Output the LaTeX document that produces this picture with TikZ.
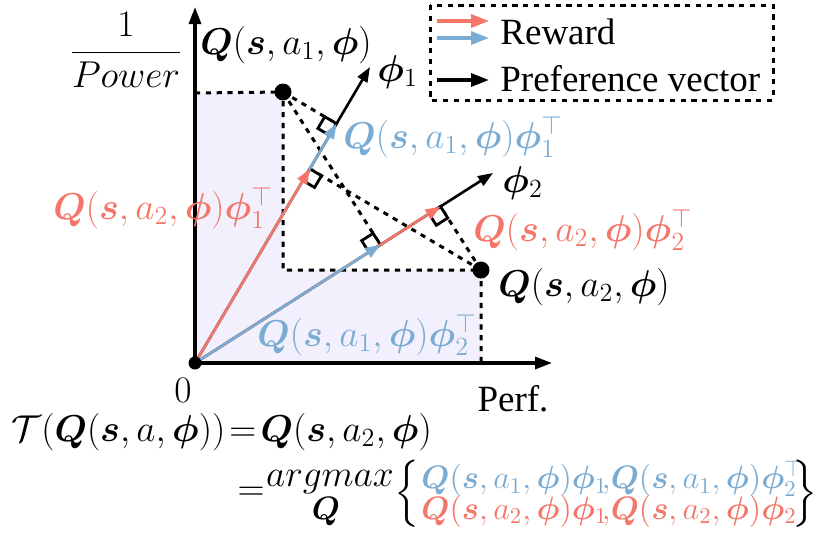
\RequirePackage{fix-cm}
\documentclass[tikz,border=0pt]{standalone}
\usepackage{amsmath,amssymb,bm}
\usepackage[no-math]{fontspec}
\setmainfont{Liberation Serif}
\usetikzlibrary{arrows.meta,calc}
\definecolor{rred}{RGB}{244,118,104}
\definecolor{rblue}{RGB}{122,172,211}
\definecolor{lav}{RGB}{243,240,253}
\newcommand{\bQ}{\boldsymbol{Q}}
\newcommand{\bS}{\boldsymbol{s}}
\newcommand{\bP}{\boldsymbol{\phi}}
\begin{document}
\begin{tikzpicture}[x=0.5pt,y=-0.5pt,
  every node/.style={inner sep=0pt, font=\fontsize{18.7}{22}\selectfont},
  txt/.style={font=\fontsize{18.5}{20}\selectfont},
  sml/.style={font=\fontsize{16.2}{18}\selectfont},
  dsh/.style={line width=1.5pt, dash pattern=on 2.6pt off 2.8pt},
  vec/.style={line width=1.3pt, -{Triangle[length=7.5pt,width=5.5pt]}},
  lvec/.style={line width=1.7pt, -{Triangle[length=9pt,width=6.5pt]}},
  axis/.style={line width=1.6pt, -{Triangle[length=8.5pt,width=6pt]}},
  sq/.style={line width=1.4pt},
  dot/.style={circle, fill=black, inner sep=0pt, minimum size=#1}
]
\useasboundingbox (0,0) rectangle (816,538);
\coordinate (O) at (195,363);
\coordinate (D1) at (283,92);
\coordinate (D2) at (481,270);
\coordinate (P1) at (370,67);
\coordinate (P2) at (493,173);
\coordinate (YT) at (195,7);
\coordinate (XT) at (552,363);
\coordinate (F11) at ($(O)!(D1)!(P1)$);
\coordinate (F21) at ($(O)!(D2)!(P1)$);
\coordinate (F12) at ($(O)!(D1)!(P2)$);
\coordinate (F22) at ($(O)!(D2)!(P2)$);
% shaded dominated region
\fill[lav] (195,93) -| (D1 |- D2) -| (D2 |- O) -- (O) -- cycle;
\draw[dsh] (195,93) -- (D1) -- (D1 |- D2) -- (D2) -- (D2 |- O);
% perpendiculars
\draw[dsh] (D1) -- (F11);
\draw[dsh] (D1) -- (F12);
\draw[dsh] (D2) -- (F21);
\draw[dsh] (D2) -- (F22);
% right-angle marks
\foreach \F/\D in {F11/D1,F12/D1,F21/D2,F22/D2}{
  \coordinate (sa) at ($(\F)!6.8pt!(O)$);
  \coordinate (sb) at ($(\F)!6.8pt!(\D)$);
  \draw[sq, fill=white] (\F) -- (sa) -- ($(sa)+(sb)-(\F)$) -- (sb) -- cycle;
}
% axes
\draw[axis] (O) -- (YT);
\draw[axis] (O) -- (XT);
% vectors
\draw[vec] (O) -- (P1);
\draw[vec] (O) -- (P2);
\draw[vec, rblue] (O) -- (F11);
\draw[vec, rred] (O) -- (F21);
\draw[vec, rred] (O) -- (F22);
\draw[vec, rblue] (O) -- (F12);
% dots
\node[dot=6.5pt] (d0) at (O) {};
\node[dot=8.5pt] (d1) at (D1) {};
\node[dot=8.5pt] (d2) at (D2) {};
% labels
\node[anchor=west] (lq1) at (200,45) {$\bQ(\bS,a_1,\bP)$};
\node[anchor=west] (lp1) at (377,72) {$\bP_1$};
\node[anchor=west, rblue] (lb1) at (343,137) {$\bQ(\bS,a_1,\bP)\bP_1^{\top}$};
\node[anchor=west, rred] (lr1) at (53,208) {$\bQ(\bS,a_2,\bP)\bP_1^{\top}$};
\node[anchor=west] (lp2) at (502,183) {$\bP_2$};
\node[anchor=west, rred] (lr2) at (473,230) {$\bQ(\bS,a_2,\bP)\bP_2^{\top}$};
\node[anchor=west] (lq2) at (498,287) {$\bQ(\bS,a_2,\bP)$};
\node[anchor=west, rblue] (lb2) at (257,335) {$\bQ(\bS,a_1,\bP)\bP_2^{\top}$};
\node (zero) at (183,390) {$0$};
\node[txt] (perf) at (513,399) {Perf.};
\node (frac) at (126,50) {$\dfrac{1}{Power}$};
% legend
\draw[dsh] (430,5) rectangle (773,100);
\coordinate (la1) at (437,21); \coordinate (lb1e) at (489,21);
\coordinate (la2) at (437,38); \coordinate (lb2e) at (489,38);
\coordinate (la3) at (437,80); \coordinate (lb3e) at (489,80);
\draw[lvec, rred] (la1) -- (lb1e);
\draw[lvec, rblue] (la2) -- (lb2e);
\draw[lvec] (la3) -- (lb3e);
\node[txt, anchor=west] (lgr) at (500,32) {Reward};
\node[txt, anchor=west] (lgp) at (500,79) {Preference vector};
% formula
\node[anchor=west] (row1) at (11,432) {$\mathcal{T}(\bQ(\bS,a,\bP))\!=\!\bQ(\bS,a_2,\bP)$};
\node (eq2) at (251,494) {$=$};
\node (amax) at (330,482) {$argmax$};
\node[sml] (amq) at (326,512) {$\bQ$};
\node (lbr) at (408,494) {$\left\{\vcenter{\hbox{\rule{0pt}{33pt}}}\right.$};
\node[sml, anchor=west, rblue] (fb) at (421,479) {$\bQ(\bS,a_1,\bP)\bP_1\!,\!\bQ(\bS,a_1,\bP)\bP_2^{\top}$};
\node[sml, anchor=west, rred] (fr) at (421,511) {$\bQ(\bS,a_2,\bP)\bP_1\!,\!\bQ(\bS,a_2,\bP)\bP_2$};
\node (rbr) at (804,494) {$\left.\vcenter{\hbox{\rule{0pt}{33pt}}}\right\}$};
\end{tikzpicture}
\end{document}
